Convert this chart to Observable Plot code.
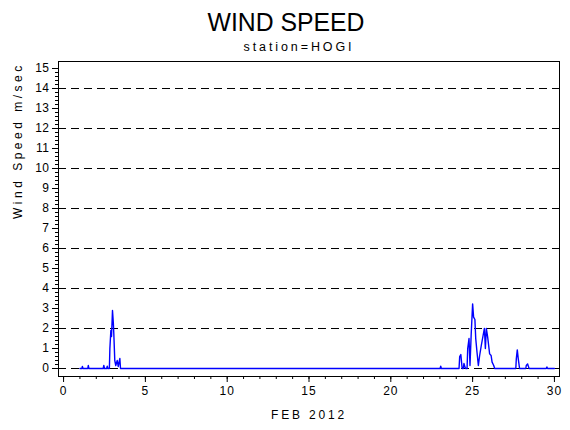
<!DOCTYPE html>
<html><head><meta charset="utf-8">
<script src="https://cdn.jsdelivr.net/npm/d3@7"></script>
<script src="https://cdn.jsdelivr.net/npm/@observablehq/plot@0.6"></script>
<style>body{margin:0;background:#fff}</style>
</head><body><div id="chart"></div>
<script>
// Hourly wind speed (day of Feb 2012, m/s) — nonzero episodes, zero elsewhere
const days = [1.0, 1.12, 1.15, 1.19, 1.48, 1.51, 1.55, 2.42, 2.46, 2.50, 2.63, 2.67, 2.71,
  2.80, 2.83, 2.89, 2.93, 2.99, 3.04, 3.07, 3.13, 3.19, 3.28, 3.34, 3.44, 3.48,
  23.01, 23.05, 23.09,
  24.17, 24.21, 24.28, 24.36, 24.43, 24.47, 24.54, 24.59,
  24.66, 24.70, 24.78, 24.84, 24.91, 25.0, 25.06, 25.14, 25.19, 25.27, 25.35, 25.43,
  25.53, 25.64, 25.72, 25.78, 25.84, 25.92, 25.98, 26.04, 26.13, 26.19, 26.29, 26.35,
  27.64, 27.67, 27.73, 27.79, 27.87,
  28.25, 28.28, 28.36, 28.45,
  29.50, 29.54, 29.58, 30.0];
const speeds = [0, 0, 0.1, 0, 0, 0.15, 0, 0, 0.15, 0, 0, 0.12, 0,
  0, 1.0, 1.9, 1.6, 2.9, 2.3, 1.75, 0.4, 0.15, 0.4, 0.1, 0.5, 0,
  0, 0.12, 0,
  0, 0.6, 0.7, 0, 0, 0.25, 0.05, 0,
  0, 1.0, 1.5, 0.15, 1.65, 3.23, 2.57, 2.45, 1.5, 0.8, 0.15, 0.65,
  1.15, 1.65, 2.0, 1.0, 2.0, 1.57, 1.15, 0.73, 0.65, 0.32, 0.15, 0,
  0, 0.48, 0.93, 0.48, 0,
  0, 0.15, 0.23, 0,
  0, 0.08, 0, 0];

const yTicks = [0,1,2,3,4,5,6,7,8,9,10,11,12,13,14,15];
const gridLines = [0,2,4,6,8,10,12,14];
const xTicks = [0,5,10,15,20,25,30];
const titleText = "WIND SPEED";
const subtitleText = "station=HOGI";
const yLabelText = "Wind Speed m/sec";
const xLabelText = "FEB 2012";

const data = days.map((d, i) => ({day: d, speed: speeds[i]}));

const chart = Plot.plot({
  width: 570, height: 430,
  marginLeft: 58, marginRight: 11, marginTop: 61, marginBottom: 54,
  style: {fontFamily: "Liberation Sans", fontSize: "12px", background: "#fff", color: "#000"},
  x: {domain: [-0.31, 30.31]},
  y: {domain: [-0.4, 15.35]},
  marks: [
    Plot.ruleY(gridLines, {stroke: "#000", strokeDasharray: "8,5"}),
    Plot.line(data, {x: "day", y: "speed", stroke: "#0000ff", strokeWidth: 1.4}),
    Plot.frame({stroke: "#000"}),
    Plot.axisY(yTicks, {tickSize: 6, tickPadding: 3, label: null, fontSize: 12, className: "ytick"}),
    Plot.axisY(d3.range(0, 15.001, 0.2), {tickSize: 3, text: null, label: null}),
    Plot.axisX(xTicks, {tickSize: 6, tickPadding: 4, label: null, fontSize: 12, className: "xtick"}),
    Plot.axisX(d3.range(0, 31, 1), {tickSize: 3, text: null, label: null}),
    Plot.text([titleText], {frameAnchor: "top", dx: -23, dy: -49, fontSize: 26, fill: "#000", className: "ttl"}),
    Plot.text([subtitleText], {frameAnchor: "top", dx: -10, dy: -19, fontSize: 12.5, fill: "#000", className: "sub"}),
    Plot.text([yLabelText], {frameAnchor: "left", dx: -40, rotate: -90, fontSize: 12, fill: "#000", className: "ylab"}),
    Plot.text([xLabelText], {frameAnchor: "bottom", dy: 42, fontSize: 12, fill: "#000", className: "xlab"})
  ]
});
document.getElementById("chart").appendChild(chart);
const s = d3.select(chart);
s.selectAll(".ttl text").attr("textLength", 157).attr("lengthAdjust", "spacingAndGlyphs");
s.selectAll(".sub text").style("letter-spacing", "2.9px");
s.selectAll(".ylab text").style("letter-spacing", "3.5px");
s.selectAll(".xlab text").style("letter-spacing", "2.8px");
s.selectAll(".xtick text").style("letter-spacing", "1px");
s.selectAll(".ytick text").style("letter-spacing", "0.5px");
</script>
</body></html>
